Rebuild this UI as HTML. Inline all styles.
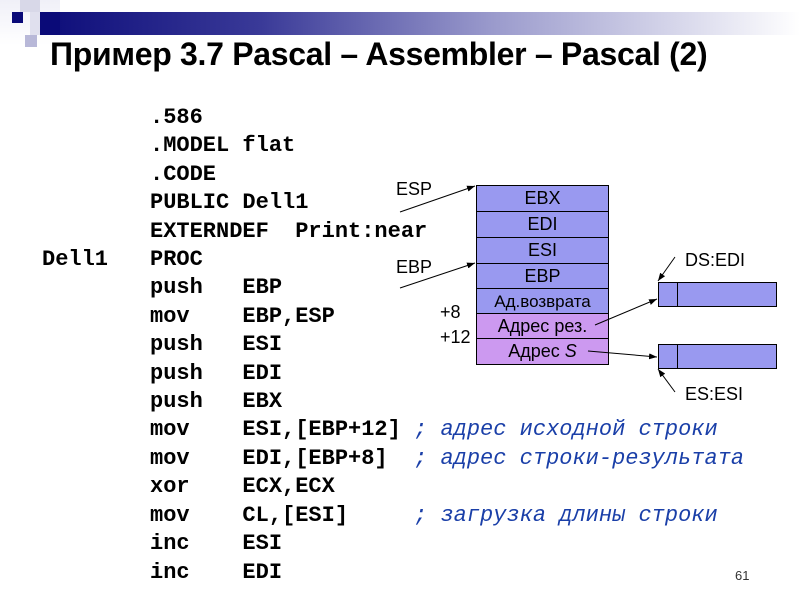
<!DOCTYPE html>
<html><head><meta charset="utf-8"><style>
body{margin:0;width:800px;height:600px;background:#fff;position:relative;overflow:hidden;font-family:"Liberation Sans",sans-serif}
.bar{position:absolute;left:30px;top:12px;width:770px;height:23px;background:linear-gradient(90deg,#0a0a78 0%,#3a3a98 30%,#9a9acc 60%,#fff 100%)}
.sq{position:absolute}
h1{position:absolute;left:50px;top:36px;margin:0;font-size:32px;font-weight:bold;letter-spacing:-0.3px;white-space:nowrap}
.code{position:absolute;font-family:"Liberation Mono",monospace;font-weight:bold;font-size:22px;white-space:pre;line-height:28.4px;left:150px;top:104px}
.c{color:#1a3fa8;font-style:italic;font-weight:normal}
.cell{position:absolute;left:476px;width:131px;height:25px;border:1px solid #000;text-align:center;font-size:18px;line-height:25px}
.lbl{position:absolute;font-size:18px}
</style></head><body>
<div class="bar"></div>
<div class="sq" style="left:0;top:0;width:60px;height:45px;background:linear-gradient(#f0f0f8,#fff)"></div>
<div class="sq" style="left:20px;top:0;width:20px;height:12px;background:#d8d8e8"></div>
<div class="sq" style="left:12px;top:12px;width:11px;height:11px;background:#0a0a78"></div>
<div class="sq" style="left:30px;top:12px;width:30px;height:23px;background:#e0e0ee"></div>
<div class="sq" style="left:25px;top:35px;width:12px;height:12px;background:#b8b8d8"></div>
<div class="sq" style="left:40px;top:12px;width:20px;height:23px;background:#0a0a78"></div>
<h1>Пример 3.7 Pascal – Assembler – Pascal (2)</h1>
<div class="code" style="left:42px;top:246px">Dell1</div>
<div class="code">.586
.MODEL flat
.CODE
PUBLIC Dell1
EXTERNDEF  Print:near
PROC
push   EBP
mov    EBP,ESP
push   ESI
push   EDI
push   EBX
mov    ESI,[EBP+12] <span class="c">; адрес исходной строки</span>
mov    EDI,[EBP+8]  <span class="c">; адрес строки-результата</span>
xor    ECX,ECX
mov    CL,[ESI]     <span class="c">; загрузка длины строки</span>
inc    ESI
inc    EDI</div>
<div class="cell" style="top:185px;background:#9999f0">EBX</div>
<div class="cell" style="top:211px;background:#9999f0">EDI</div>
<div class="cell" style="top:237px;background:#9999f0">ESI</div>
<div class="cell" style="top:263px;background:#9999f0">EBP</div>
<div class="cell" style="top:288px;background:#9999f0;font-size:17px">Ад.возврата</div>
<div class="cell" style="top:313px;background:#cc99f0">Адрес рез.</div>
<div class="cell" style="top:338px;background:#cc99f0">Адрес <i>S</i></div>
<div style="position:absolute;left:658px;top:282px;width:117px;height:23px;border:1px solid #000;background:#9999f0"></div>
<div style="position:absolute;left:677px;top:282px;width:1px;height:25px;background:#000"></div>
<div style="position:absolute;left:658px;top:344px;width:117px;height:23px;border:1px solid #000;background:#9999f0"></div>
<div style="position:absolute;left:677px;top:344px;width:1px;height:25px;background:#000"></div>
<div class="lbl" style="left:396px;top:179px">ESP</div>
<div class="lbl" style="left:396px;top:257px">EBP</div>
<div class="lbl" style="left:440px;top:302px">+8</div>
<div class="lbl" style="left:440px;top:327px">+12</div>
<div class="lbl" style="left:685px;top:250px">DS:EDI</div>
<div class="lbl" style="left:685px;top:384px">ES:ESI</div>
<svg width="800" height="600" style="position:absolute;left:0;top:0">
<defs><marker id="a" markerWidth="8" markerHeight="6" refX="8" refY="3" orient="auto"><path d="M0,0L8,3L0,6z" fill="#000"/></marker></defs>
<g stroke="#000" stroke-width="1" fill="none" marker-end="url(#a)">
<line x1="400" y1="212" x2="475" y2="186"/>
<line x1="400" y1="288" x2="475" y2="263"/>
<line x1="595" y1="325" x2="657" y2="299"/>
<line x1="588" y1="351" x2="657" y2="357"/>
<line x1="675" y1="257" x2="658" y2="281"/>
<line x1="675" y1="392" x2="658" y2="369"/>
</g></svg>
<div style="position:absolute;left:735px;top:568px;font-size:13px;color:#333">61</div>
</body></html>
